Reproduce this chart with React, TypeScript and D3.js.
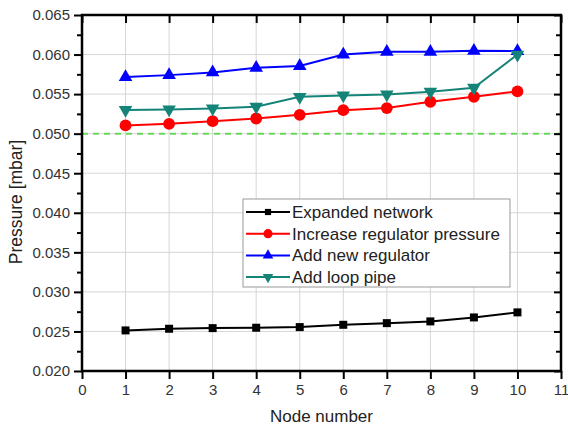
import * as d3 from "d3";
import { useEffect, useRef } from "react";

const nodes = [1, 2, 3, 4, 5, 6, 7, 8, 9, 10];
const expandedNetwork = [0.02513, 0.02534, 0.02542, 0.02547, 0.02555, 0.02584, 0.02605, 0.02627, 0.02677, 0.02741];
const increaseRegulator = [0.05104, 0.05124, 0.05158, 0.05192, 0.05238, 0.05297, 0.05323, 0.05403, 0.05466, 0.05534];
const addNewRegulator = [0.05715, 0.0574, 0.05774, 0.05833, 0.05855, 0.06, 0.06035, 0.06035, 0.06048, 0.06044];
const addLoopPipe = [0.053, 0.05306, 0.05319, 0.0534, 0.05466, 0.05483, 0.05496, 0.0553, 0.0558, 0.06];
const seriesNames = ["Expanded network", "Increase regulator pressure", "Add new regulator", "Add loop pipe"];
const xTicks = [0, 1, 2, 3, 4, 5, 6, 7, 8, 9, 10, 11];
const yTicks = [0.02, 0.025, 0.03, 0.035, 0.04, 0.045, 0.05, 0.055, 0.06, 0.065];
const yMinor = [0.0225, 0.0275, 0.0325, 0.0375, 0.0425, 0.0475, 0.0525, 0.0575, 0.0625];
const limitPressure = 0.05;

export default function App() {
    const ref = useRef<SVGSVGElement>(null);

    useEffect(() => {
        const svg = d3.select(ref.current);
        svg.selectAll("*").remove();

        const left = 82,
            right = 561,
            top = 15,
            bottom = 371;
        const font = "'Liberation Sans', Arial, sans-serif";

        const x = d3.scaleLinear().domain([0, 11]).range([left, right]);
        const y = d3.scaleLinear().domain([0.02, 0.065]).range([bottom, top]);

        svg.append("rect").attr("width", 568).attr("height", 427).attr("fill", "#fff");

        // Gridlines
        svg.append("g")
            .selectAll("line")
            .data(xTicks.slice(1, -1))
            .join("line")
            .attr("x1", (d) => x(d))
            .attr("x2", (d) => x(d))
            .attr("y1", top)
            .attr("y2", bottom)
            .attr("stroke", "#d6d6d6")
            .attr("stroke-width", 1);

        svg.append("g")
            .selectAll("line")
            .data(yTicks.slice(1, -1))
            .join("line")
            .attr("x1", left)
            .attr("x2", right)
            .attr("y1", (d) => y(d))
            .attr("y2", (d) => y(d))
            .attr("stroke", "#d6d6d6")
            .attr("stroke-width", 1);

        // Limit line
        svg.append("line")
            .attr("x1", left)
            .attr("x2", right)
            .attr("y1", y(limitPressure))
            .attr("y2", y(limitPressure))
            .attr("stroke", "#6ad85a")
            .attr("stroke-width", 2)
            .attr("stroke-dasharray", "6,5");

        // Axes
        const styleAxis = (g: any) => {
            g.select(".domain").remove();
            g.selectAll("line").attr("stroke", "#000").attr("stroke-width", 2);
            g.selectAll("text").attr("fill", "#333").attr("font-size", 15).attr("font-family", font);
        };

        svg.append("g")
            .attr("transform", `translate(0, ${bottom})`)
            .call(d3.axisBottom(x).tickValues(xTicks).tickSize(8).tickPadding(5).tickFormat(d3.format("d")))
            .call(styleAxis);

        svg.append("g")
            .attr("transform", `translate(${left}, 0)`)
            .call(d3.axisLeft(y).tickValues(yTicks).tickSize(8).tickPadding(4).tickFormat(d3.format(".3f")))
            .call(styleAxis);

        svg.append("g")
            .attr("transform", `translate(${left}, 0)`)
            .call(d3.axisLeft(y).tickValues(yMinor).tickSize(5).tickFormat(() => ""))
            .call(styleAxis);

        // Mirror axes, ticks pointing inward
        svg.append("g")
            .attr("transform", `translate(0, ${top})`)
            .call(d3.axisBottom(x).tickValues(xTicks).tickSize(8).tickFormat(() => ""))
            .call(styleAxis);

        svg.append("g")
            .attr("transform", `translate(${right}, 0)`)
            .call(d3.axisLeft(y).tickValues(yTicks).tickSize(7).tickFormat(() => ""))
            .call(styleAxis);

        svg.append("g")
            .attr("transform", `translate(${right}, 0)`)
            .call(d3.axisLeft(y).tickValues(yMinor).tickSize(5).tickFormat(() => ""))
            .call(styleAxis);

        // Frame
        svg.append("rect")
            .attr("x", left)
            .attr("y", top)
            .attr("width", right - left)
            .attr("height", bottom - top)
            .attr("fill", "none")
            .attr("stroke", "#000")
            .attr("stroke-width", 2.5);

        // Axis titles
        svg.append("text")
            .attr("x", (left + right) / 2)
            .attr("y", 422)
            .attr("text-anchor", "middle")
            .attr("font-size", 17)
            .attr("font-family", font)
            .attr("fill", "#222")
            .text("Node number");

        svg.append("text")
            .attr("transform", `translate(22, 202) rotate(-90)`)
            .attr("text-anchor", "middle")
            .attr("font-size", 17.5)
            .attr("font-family", font)
            .attr("fill", "#222")
            .text("Pressure [mbar]");

        // Series
        const series = [
            { name: seriesNames[0], values: expandedNetwork, color: "#000000", symbol: d3.symbolSquare, size: 64, rot: 0 },
            { name: seriesNames[1], values: increaseRegulator, color: "#ff0000", symbol: d3.symbolCircle, size: 110, rot: 0 },
            { name: seriesNames[2], values: addNewRegulator, color: "#0000ff", symbol: d3.symbolTriangle, size: 80, rot: 0 },
            { name: seriesNames[3], values: addLoopPipe, color: "#148479", symbol: d3.symbolTriangle, size: 80, rot: 180 },
        ];

        const line = d3
            .line<number>()
            .x((d, i) => x(nodes[i]))
            .y((d) => y(d));

        series.forEach((s) => {
            svg.append("path")
                .datum(s.values)
                .attr("d", line)
                .attr("fill", "none")
                .attr("stroke", s.color)
                .attr("stroke-width", 2);

            svg.append("g")
                .selectAll("path")
                .data(s.values)
                .join("path")
                .attr("transform", (d, i) => `translate(${x(nodes[i])}, ${y(d)}) rotate(${s.rot})`)
                .attr("d", d3.symbol(s.symbol, s.size)())
                .attr("fill", s.color);
        });

        // Legend
        const lg = svg.append("g");
        lg.append("rect")
            .attr("x", 243)
            .attr("y", 199)
            .attr("width", 267)
            .attr("height", 88)
            .attr("fill", "#fff")
            .attr("stroke", "#999")
            .attr("stroke-width", 1);

        series.forEach((s, i) => {
            const cy = 212 + i * 21.7;
            lg.append("line")
                .attr("x1", 246)
                .attr("x2", 290)
                .attr("y1", cy)
                .attr("y2", cy)
                .attr("stroke", s.color)
                .attr("stroke-width", 2);
            lg.append("path")
                .attr("transform", `translate(268, ${cy}) rotate(${s.rot})`)
                .attr("d", d3.symbol(s.symbol, s.size * 0.6)())
                .attr("fill", s.color);
            lg.append("text")
                .attr("x", 292)
                .attr("y", cy)
                .attr("dy", "0.35em")
                .attr("font-size", 17)
                .attr("font-family", font)
                .attr("fill", "#222")
                .text(s.name);
        });
    }, []);

    return <svg ref={ref} width={568} height={427} style={{ display: "block", position: "absolute", left: 0, top: 0 }}></svg>;
}
